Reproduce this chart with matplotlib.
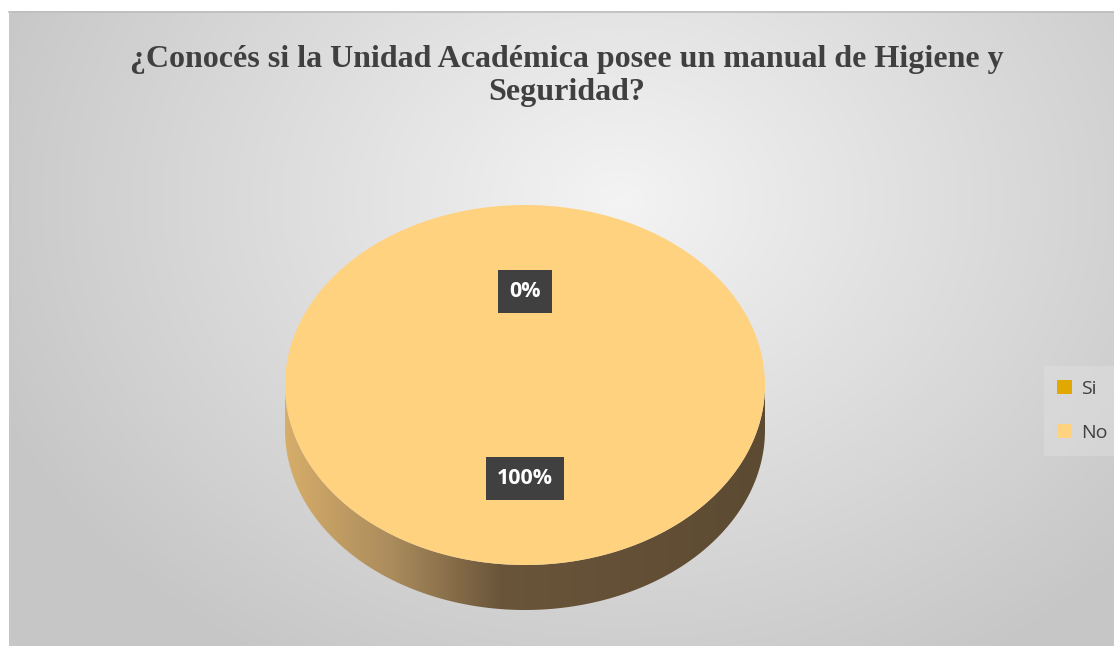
import matplotlib
matplotlib.use('Agg')
import matplotlib.pyplot as plt
import numpy as np
from matplotlib.patches import Polygon, Rectangle
from matplotlib.colors import LinearSegmentedColormap

# data
labels = ['Si', 'No']
values = [0, 100]
colors = ['#e0a800', '#ffd280']
title = '¿Conocés si la Unidad Académica posee un manual de Higiene y\nSeguridad?'

W, H = 1114, 646
fig = plt.figure(figsize=(W / 100, H / 100), dpi=100)
fig.patch.set_facecolor('white')

# background axes in pixel coords
bg = fig.add_axes([0, 0, 1, 1])
bg.set_xlim(0, W)
bg.set_ylim(H, 0)
bg.axis('off')

yy, xx = np.mgrid[0:H, 0:W]
r = np.sqrt(((xx - 620) / 650.0) ** 2 + ((yy - 200) / 520.0) ** 2)
shade = np.clip(0.955 - 0.17 * r, 0.78, 0.955)
img = np.dstack([shade, shade, shade])
im = bg.imshow(img, extent=(0, W, H, 0), zorder=0)
box = Rectangle((9, 11), W, H, transform=bg.transData, facecolor='none', edgecolor='none')
bg.add_patch(box)
im.set_clip_path(box)
bg.plot([9, W], [11.5, 11.5], color='#bdbdbd', lw=1.2, zorder=1)
bg.plot([9.5, 9.5], [11, H], color='#c8c8c8', lw=1, zorder=1)

bg.text(567, 76, title, ha='center', va='center', fontsize=23, fontweight='bold',
        family='Liberation Serif', color='#404040', linespacing=1.2)

# pie axes: top face 285..765 x 205..565, side down to 610
depth = 0.25
left, right, top, bottom = 285, 765, 205, 610
ax = fig.add_axes([left / W, (H - bottom) / H, (right - left) / W, (bottom - top) / H])

# side of the pie (3d band) with horizontal gradient
t = np.linspace(np.pi, 2 * np.pi, 200)
upper = np.column_stack([np.cos(t), np.sin(t)])
lower = np.column_stack([np.cos(t[::-1]), np.sin(t[::-1]) - depth])
band = Polygon(np.vstack([upper, lower]), closed=True, facecolor='none', edgecolor='none')
ax.add_patch(band)
side_cmap = LinearSegmentedColormap.from_list(
    'side', [(0.0, '#d6ad6a'), (0.22, '#ab8c5c'), (0.45, '#6a553a'), (1.0, '#5c4a32')])
grad = np.tile(np.linspace(0, 1, 256), (10, 1))
gim = ax.imshow(grad, extent=(-1, 1, -1 - depth, 0), cmap=side_cmap, aspect='auto', zorder=1)
gim.set_clip_path(band)

wedges, texts, autotexts = ax.pie(values, colors=colors, startangle=90, counterclock=False,
                                  autopct='%d%%', pctdistance=0.52,
                                  wedgeprops=dict(linewidth=0, zorder=2))
for at in autotexts:
    at.set_color('white')
    at.set_fontweight('bold')
    at.set_family('Open Sans')
    at.set_fontsize(15.5)
    at.set_zorder(5)
    at.set_bbox(dict(boxstyle='square,pad=0.5', facecolor='#404040', edgecolor='none'))

ax.set_aspect('auto')
ax.set_xlim(-1, 1)
ax.set_ylim(-1 - depth, 1)
ax.axis('off')

leg = fig.legend(wedges, labels, loc='center left', bbox_to_anchor=(1034 / W, 1 - 411 / H),
                 frameon=True, handlelength=0.75, handleheight=0.75,
                 handletextpad=0.45, labelspacing=1.35, borderpad=0.7,
                 prop={'family': 'Open Sans', 'size': 14})
leg.get_frame().set_facecolor('#e6e6e6')
leg.get_frame().set_edgecolor('none')
leg.get_frame().set_alpha(0.35)
leg.get_frame().set_boxstyle('square,pad=0')
for txt in leg.get_texts():
    txt.set_color('#404040')

fig.savefig('out.png', dpi=100)
